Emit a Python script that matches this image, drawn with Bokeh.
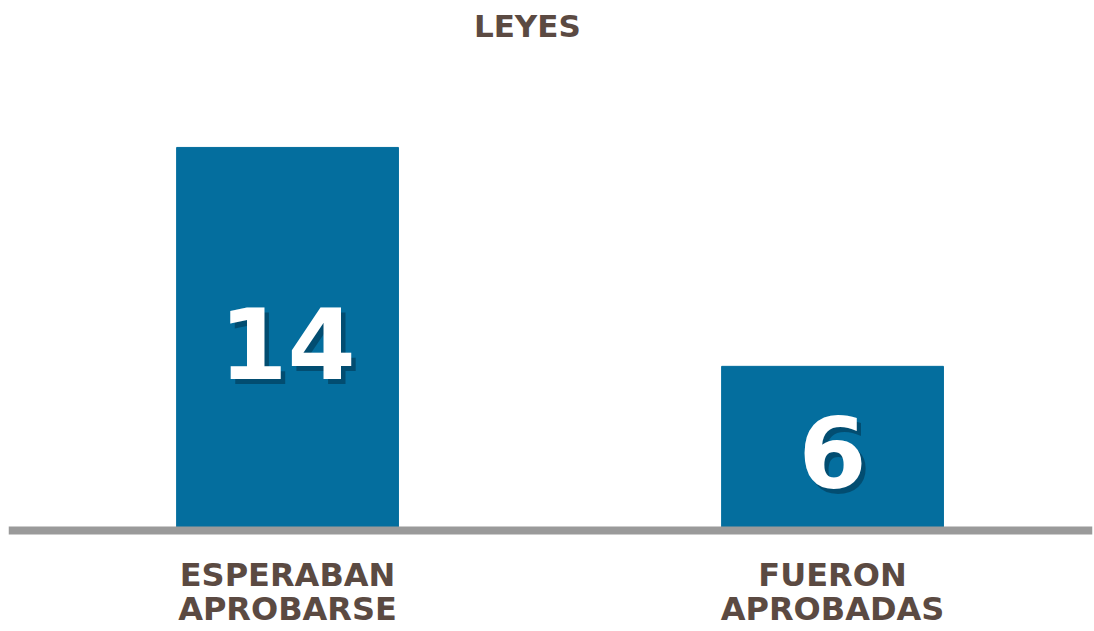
from bokeh.plotting import figure
from bokeh.models import ColumnDataSource, Range1d, Span, Label
from bokeh.core.properties import value
from bokeh.embed import file_html
from bokeh.resources import INLINE

title_text = "LEYES"
categories = ["ESPERABAN\nAPROBARSE", "FUERON\nAPROBADAS"]
values = [14, 6]

BLUE = "#046e9e"
BROWN = "#5b4a42"
GRAY = "#9a9a9a"
FONT = "DejaVu Sans"

H_PX = 631
Y0, Y1 = -3.69, 19.37
PX = H_PX / (Y1 - Y0)  # pixels per data unit in y

p = figure(width=1094, height=H_PX, output_backend="svg", toolbar_location=None,
           x_range=Range1d(-0.512, 1.477), y_range=Range1d(Y0, Y1),
           min_border=0, min_border_left=8, min_border_right=2,
           outline_line_color=None, background_fill_color="white",
           border_fill_color="white")
p.axis.visible = False
p.grid.visible = False

xs = list(range(len(categories)))
src = ColumnDataSource(dict(x=xs, top=values))
p.vbar(x="x", top="top", bottom=0, width=0.407, color=BLUE, source=src)

p.add_layout(Span(location=0, dimension="width", line_color=GRAY, line_width=8))

# value labels with a soft shadow (positions shifted in data units, no pixel offsets)
shadow_src = ColumnDataSource(dict(x=[x + 0.008 for x in xs],
                                   y=[v / 2 - 9 / PX for v in values],
                                   t=[str(v) for v in values]))
label_src = ColumnDataSource(dict(x=xs, y=[v / 2 - 4 / PX for v in values],
                                  t=[str(v) for v in values]))
p.text(x="x", y="y", text="t", source=shadow_src, text_color="#00263a", text_alpha=0.45,
       text_font=value(FONT), text_font_style="bold", text_font_size="98px",
       text_align="center", text_baseline="middle")
p.text(x="x", y="y", text="t", source=label_src, text_color="white",
       text_font=value(FONT), text_font_style="bold", text_font_size="98px",
       text_align="center", text_baseline="middle")

# category labels, one glyph per line
n_lines = max(len(c.split("\n")) for c in categories)
for i in range(n_lines):
    line_src = ColumnDataSource(dict(
        x=xs, y=[-(44 + 34 * i) / PX] * len(xs),
        t=[c.split("\n")[i] if i < len(c.split("\n")) else "" for c in categories]))
    p.text(x="x", y="y", text="t", source=line_src, text_color=BROWN,
           text_font=value(FONT), text_font_style="bold", text_font_size="32px",
           text_align="center", text_baseline="middle")

p.add_layout(Label(x=0.44, y=18.42, text=title_text,
                   text_color=BROWN, text_font=FONT, text_font_style="bold",
                   text_font_size="31px", text_align="center", text_baseline="middle"))

open("out.html", "w").write(file_html(p, INLINE))
